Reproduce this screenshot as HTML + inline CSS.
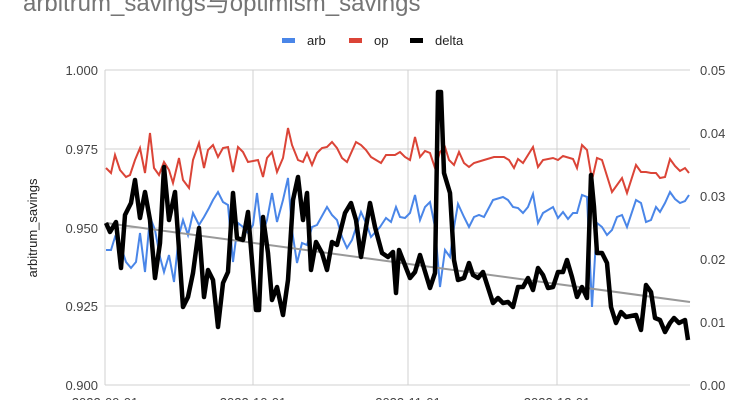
<!DOCTYPE html>
<html><head><style>
html,body{margin:0;padding:0;background:#fff;}
svg{display:block;font-family:"Liberation Sans","Noto Sans CJK SC",sans-serif;}
</style></head><body>
<svg width="748" height="400" viewBox="0 0 748 400">
<text x="23" y="11" font-size="24" fill="#757575">arbitrum_savings与optimism_savings</text>
<g font-size="13" fill="#222">
<rect x="282" y="38" width="13" height="5" fill="#4a86e8"/><text x="307" y="45">arb</text>
<rect x="349" y="38" width="13" height="5" fill="#db4437"/><text x="374" y="45">op</text>
<rect x="410" y="38" width="13" height="5" fill="#000"/><text x="435" y="45">delta</text>
</g>
<g stroke="#d0d0d0" stroke-width="1">
<line x1="105" y1="70" x2="690" y2="70"/><line x1="105" y1="149" x2="690" y2="149"/>
<line x1="105" y1="228" x2="690" y2="228"/><line x1="105" y1="306" x2="690" y2="306"/>
<line x1="105" y1="385" x2="690" y2="385"/>
<line x1="105" y1="70" x2="105" y2="385"/><line x1="253" y1="70" x2="253" y2="385"/>
<line x1="408" y1="70" x2="408" y2="385"/><line x1="557" y1="70" x2="557" y2="385"/>
</g>
<g font-size="13" fill="#444" text-anchor="end">
<text x="98" y="75">1.000</text><text x="98" y="154">0.975</text><text x="98" y="233">0.950</text><text x="98" y="311">0.925</text><text x="98" y="390">0.900</text>
</g>
<g font-size="13" fill="#444">
<text x="700" y="75">0.05</text><text x="700" y="138">0.04</text><text x="700" y="201">0.03</text><text x="700" y="264">0.02</text><text x="700" y="327">0.01</text><text x="700" y="390">0.00</text>
</g>
<g font-size="13" fill="#444" text-anchor="middle">
<text x="105" y="407">2022-09-01</text><text x="253" y="407">2022-10-01</text><text x="408" y="407">2022-11-01</text><text x="557" y="407">2022-12-01</text>
</g>
<text transform="translate(37,228) rotate(-90)" font-size="13" fill="#222" text-anchor="middle">arbitrum_savings</text>
<polyline fill="none" stroke="#db4437" stroke-width="2" points="106,168 111,173 115,155 120,170 126,177 130,175 135,160 140,148 145,173 150,133 154,168 159,175 164,162 169,170 173,183 179,158 183,180 189,188 193,160 199,143 204,168 208,150 213,145 218,157 223,148 228,147 233,172 238,147 243,152 248,162 258,160 263,177 267,158 272,152 277,172 283,158 288,128 292,145 298,160 303,162 307,153 312,165 317,153 322,148 327,147 332,142 337,148 342,158 347,162 356,142 361,145 366,150 371,157 381,163 386,155 395,155 400,152 405,157 410,160 415,137 420,157 425,151 430,153 435,168 440,152 445,147 449,160 454,165 459,152 464,163 469,167 474,163 484,160 494,157 504,157 509,160 514,168 518,159 523,163 533,147 538,167 543,160 553,158 558,160 563,156 573,159 577,168 582,145 587,150 592,180 597,158 602,160 612,192 622,178 627,193 636,165 641,172 646,172 651,173 656,173 660,178 665,177 670,159 675,166 680,171 685,168 689,173"/>
<polyline fill="none" stroke="#4a86e8" stroke-width="2" points="106,250 111,250 115,237 121,247 126,262 131,268 136,262 140,233 145,272 150,217 155,230 160,257 164,272 169,255 174,282 179,235 183,220 188,235 193,213 199,225 204,217 209,208 213,200 218,192 223,202 228,205 233,262 238,223 243,227 248,233 253,225 257,193 262,235 267,220 272,193 277,222 283,200 288,178 292,230 297,263 302,243 307,245 312,227 317,225 327,207 332,215 337,220 342,237 347,248 352,240 361,212 366,223 371,237 380,227 386,218 391,222 396,207 400,217 405,218 410,213 415,195 420,220 425,207 430,202 435,227 440,287 445,250 450,257 454,227 458,204 464,217 469,227 474,217 479,215 484,217 493,200 503,197 508,200 513,207 518,208 523,213 528,207 533,194 538,223 543,213 553,207 558,218 563,212 568,219 573,213 577,213 582,195 587,197 592,307 597,223 602,227 607,235 612,230 617,217 622,215 627,227 636,200 641,203 646,222 651,220 656,207 660,212 665,203 670,192 675,199 680,203 685,201 689,195"/>
<line x1="106" y1="223" x2="690" y2="302" stroke="#999" stroke-width="2"/>
<polyline fill="none" stroke="#000" stroke-width="4.5" stroke-linejoin="round" points="106,223 110,232 116,222 121,268 125,215 131,203 135,180 140,218 145,192 150,220 155,278 160,243 164,167 169,220 175,192 183,307 188,297 193,273 199,228 204,297 208,270 213,280 218,327 223,283 228,272 233,193 237,238 243,240 248,212 256,310 259,310 263,217 268,253 272,300 277,287 283,315 288,280 293,200 298,177 303,220 307,193 311,270 316,242 322,253 327,270 332,242 337,245 345,213 351,203 356,220 361,257 370,203 375,227 382,253 388,257 393,252 396,293 399,250 410,278 415,272 420,255 430,288 435,273 438,92 441,92 444,173 450,193 454,260 458,280 464,278 469,263 473,275 478,278 483,272 493,303 498,298 503,303 508,302 513,307 518,287 523,287 528,278 533,290 538,268 543,275 548,288 553,287 558,272 563,272 567,260 572,277 577,297 582,287 587,298 591,175 594,207 597,253 602,253 607,263 611,307 616,323 621,312 626,317 636,315 641,330 646,285 651,292 655,318 660,320 665,332 670,323 674,318 679,323 685,320 688,340"/>
</svg>
</body></html>
